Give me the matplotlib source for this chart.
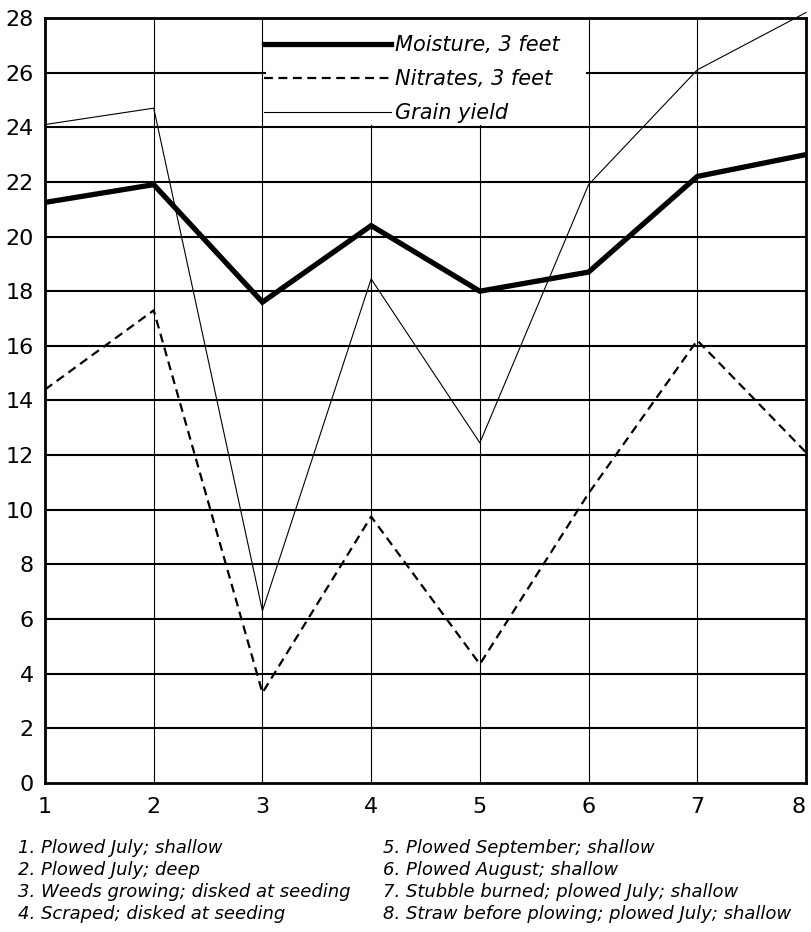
import numpy as np
import matplotlib
matplotlib.use("Agg")
import matplotlib.pyplot as plt
from matplotlib.patches import Rectangle

# plots 1..8
plots = [1, 2, 3, 4, 5, 6, 7, 8]
moisture = [21.25, 21.9, 17.6, 20.4, 18.0, 18.7, 22.2, 23.0]
nitrates = [14.4, 17.3, 3.3, 9.75, 4.35, 10.6, 16.2, 12.1]
grain = [24.1, 24.7, 6.3, 18.45, 12.45, 21.9, 26.1, 28.2]

yticks = list(range(0, 29, 2))
notes_left = ["1. Plowed July; shallow",
              "2. Plowed July; deep",
              "3. Weeds growing; disked at seeding",
              "4. Scraped; disked at seeding"]
notes_right = ["5. Plowed September; shallow",
               "6. Plowed August; shallow",
               "7. Stubble burned; plowed July; shallow",
               "8. Straw before plowing; plowed July; shallow"]

plt.rcParams['font.family'] = ['DejaVu Sans']

fig = plt.figure(figsize=(8.11, 9.32), dpi=100)
ax = fig.add_axes([0.0555, 0.1599, 0.9383, 0.8208])

ax.set_xlim(1, 8)
ax.set_ylim(0, 28)
ax.set_xticks(plots)
ax.set_yticks(yticks)
ax.tick_params(length=0, labelsize=16)
ax.tick_params(axis='x', pad=10)
ax.tick_params(axis='y', pad=8)
ax.get_xticklabels()[-1].set_horizontalalignment('right')

# grid: horizontal heavier than vertical
for y in yticks[1:-1]:
    ax.axhline(y, color='black', lw=1.5, zorder=1)
for x in plots[1:-1]:
    ax.axvline(x, color='black', lw=0.8, zorder=1)
for s in ax.spines.values():
    s.set_linewidth(2.0)
    s.set_zorder(4)

# blank area behind the key
ax.add_patch(Rectangle((3.03, 24.08), 2.95, 4.0, facecolor='white',
                       edgecolor='none', zorder=1.5))

ax.plot(plots, moisture, color='black', lw=3.8, solid_joinstyle='miter',
        label='Moisture, 3 feet', zorder=3)
ax.plot(plots, nitrates, color='black', lw=1.6, dashes=(4, 2.5),
        label='Nitrates, 3 feet', zorder=3)
ax.plot(plots, grain, color='black', lw=0.8, label='Grain yield',
        zorder=3, clip_on=False)

leg = ax.legend(loc='upper left', bbox_to_anchor=(0.288, 0.978),
                frameon=False, handlelength=6.1, handletextpad=0.2,
                labelspacing=0.68, borderpad=0, borderaxespad=0,
                prop={'size': 15, 'style': 'italic'})

for i, t in enumerate(notes_left):
    fig.text(18 / 811, 1 - (848 + 22 * i) / 932, t, fontsize=13,
             style='italic', va='center', ha='left')
for i, t in enumerate(notes_right):
    fig.text(383 / 811, 1 - (848 + 22 * i) / 932, t, fontsize=13,
             style='italic', va='center', ha='left')

fig.savefig("out.png", dpi=100)
